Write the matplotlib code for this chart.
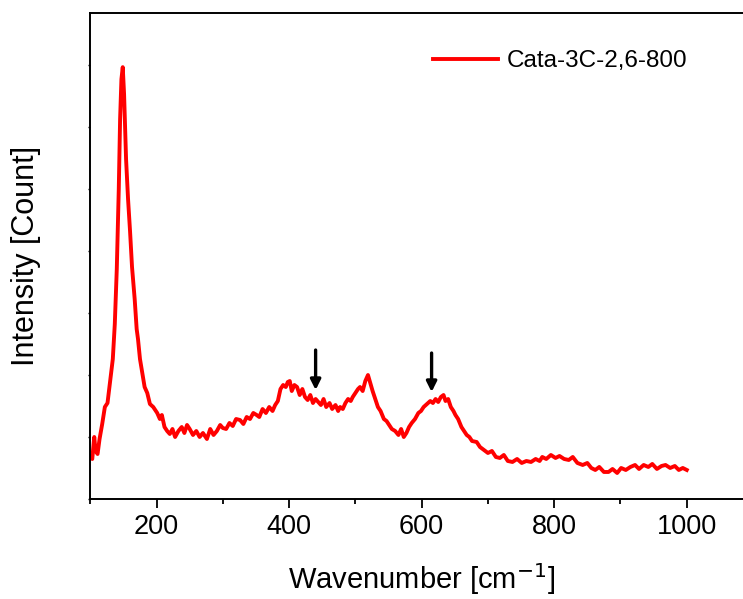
import numpy as np
import matplotlib.pyplot as plt

plt.rcParams["font.family"] = ["Liberation Sans", "DejaVu Sans"]

# Raman spectrum (arbitrary intensity units)
wavenumber = [
    100, 103, 106, 108, 111, 114, 118, 122, 126, 130, 134, 137, 140, 143, 145,
    147, 149, 151, 154, 157, 160, 163, 167, 170, 172, 175, 178, 182, 186, 190,
    195, 201, 205, 208, 212, 216, 220, 224, 228, 233, 238, 242, 246, 250, 255,
    260, 265, 270, 276, 281, 286, 291, 296, 300, 305, 310, 315, 320, 326, 331,
    336, 341, 346, 351, 355, 360, 365, 370, 375, 379, 383, 387, 391, 395, 398,
    401, 404, 408, 412, 416, 420, 424, 428, 432, 436, 440, 444, 448, 452, 456,
    461, 465, 470, 474, 477, 481, 485, 489, 493, 496, 500, 504, 507, 511, 515,
    519, 522, 526, 530, 534, 538, 543, 547, 551, 555, 560, 565, 569, 573, 577,
    581, 585, 590, 595, 599, 603, 608, 613, 617, 621, 625, 629, 633, 636, 640,
    644, 648, 651, 655, 660, 664, 668, 672, 676, 683, 688, 694, 700, 706, 712,
    718, 724, 730, 737, 744, 751, 758, 765, 772, 778, 782, 788, 795, 802, 808,
    815, 822, 828, 835, 843, 850, 856, 862, 868, 875, 882, 888, 895, 901, 908,
    915, 922, 928, 935, 942, 948, 955, 962, 968, 975, 982, 988, 994, 1000,
]
intensity = [
    42, 40, 62, 48, 45, 60, 75, 92, 96, 118, 140, 175, 230, 310, 380,
    420, 432, 405, 340, 300, 268, 232, 200, 170, 160, 140, 128, 112, 106, 95,
    92, 86, 80, 84, 72, 68, 65, 70, 62, 68, 72, 66, 74, 70, 64,
    68, 62, 66, 60, 70, 64, 68, 74, 71, 70, 76, 73, 80, 79, 75,
    82, 80, 86, 84, 82, 90, 86, 92, 88, 94, 98, 110, 114, 112, 117,
    118, 108, 114, 112, 104, 110, 102, 99, 104, 96, 100, 97, 94, 100, 92,
    96, 90, 94, 88, 92, 90, 96, 100, 98, 102, 106, 110, 112, 108, 118,
    124, 117, 108, 100, 92, 88, 80, 78, 74, 70, 68, 64, 70, 62, 66,
    72, 76, 80, 86, 88, 92, 95, 98, 96, 100, 97, 102, 104, 98, 100,
    92, 88, 84, 80, 72, 68, 64, 62, 58, 57, 52, 49, 46, 48, 42,
    41, 44, 38, 37, 40, 36, 38, 37, 40, 38, 42, 40, 44, 41, 43,
    40, 39, 42, 36, 34, 36, 31, 29, 32, 27, 27, 30, 26, 31, 29,
    32, 34, 30, 34, 32, 35, 30, 33, 34, 31, 33, 29, 31, 29,
]

arrow_x = [440, 615]
arrow_top = [149, 146]
arrow_bottom = [109, 107]

fig = plt.figure(figsize=(7.43, 5.99), dpi=100)
ax = fig.add_axes([0.1215, 0.167, 0.892, 0.811])

ax.plot(wavenumber, intensity, color="#ff0000", linewidth=2.8, label="Cata-3C-2,6-800")

for x, y0, y1 in zip(arrow_x, arrow_top, arrow_bottom):
    ax.annotate("", xy=(x, y1), xytext=(x, y0),
                arrowprops=dict(arrowstyle="-|>,head_width=0.3,head_length=0.6",
                                color="black", lw=2.4, shrinkA=0, shrinkB=0))

ax.set_xlim(100, 1100)
ax.set_ylim(0, 486)
ax.set_xticks([200, 400, 600, 800, 1000])
ax.set_xticks(np.arange(100, 1101, 100), minor=True)
ax.set_yticks(np.arange(0, 486, 62))
ax.set_yticklabels([])
ax.tick_params(axis="x", which="major", direction="out", length=6.5, width=1.3,
               labelsize=19.5, pad=4)
ax.tick_params(axis="x", which="minor", direction="out", length=3.6, width=1.3)
ax.tick_params(axis="y", direction="out", length=1.5, width=1.0)
for s in ax.spines.values():
    s.set_linewidth(1.4)

ax.set_xlabel("Wavenumber [cm$^{-1}$]", fontsize=21)
ax.xaxis.set_label_coords(0.5, -0.128)
ax.set_ylabel("Intensity [Count]", fontsize=22)
ax.yaxis.set_label_coords(-0.0744, 0.5)

ax.legend(loc="center left", bbox_to_anchor=(0.517, 0.901), frameon=False,
          fontsize=17.5, handlelength=2.66, handletextpad=0.37,
          borderpad=0, borderaxespad=0)

fig.savefig("out.png", dpi=100)
